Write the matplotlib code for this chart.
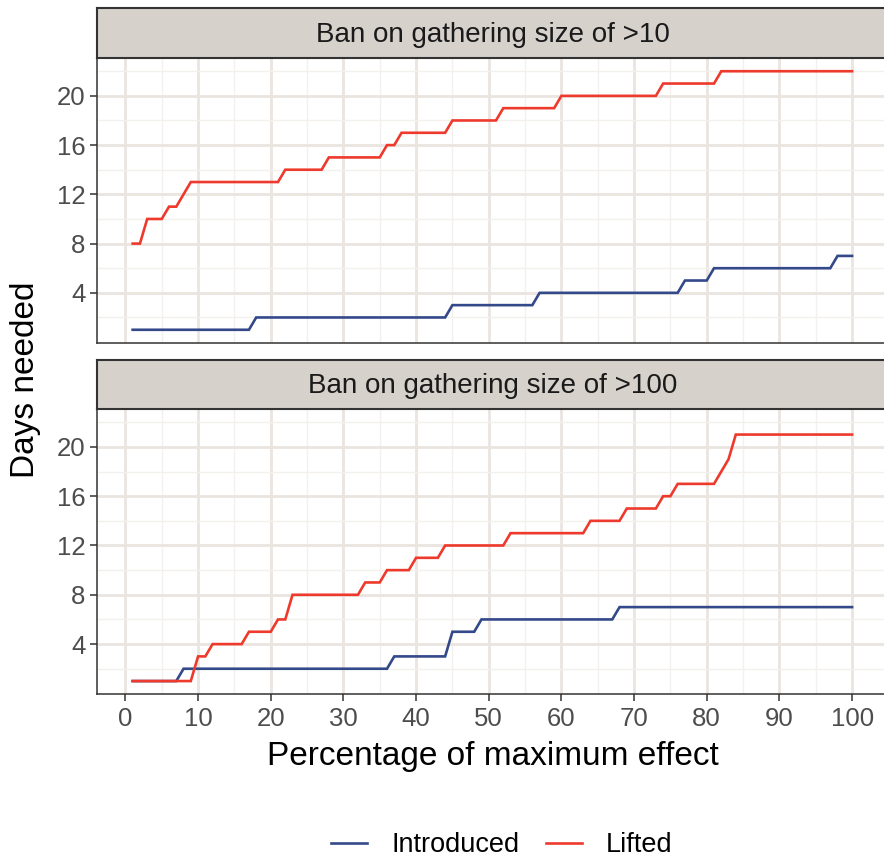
import matplotlib
matplotlib.use("Agg")
import matplotlib.pyplot as plt
from matplotlib.lines import Line2D

plt.rcParams['font.family'] = ['Liberation Sans', 'DejaVu Sans']

# Percentage of maximum effect (x axis)
percent = list(range(1, 101))

# Ban on gathering size of >10
gather10_introduced = [
    1, 1, 1, 1, 1, 1, 1, 1, 1, 1,
    1, 1, 1, 1, 1, 1, 1, 2, 2, 2,
    2, 2, 2, 2, 2, 2, 2, 2, 2, 2,
    2, 2, 2, 2, 2, 2, 2, 2, 2, 2,
    2, 2, 2, 2, 3, 3, 3, 3, 3, 3,
    3, 3, 3, 3, 3, 3, 4, 4, 4, 4,
    4, 4, 4, 4, 4, 4, 4, 4, 4, 4,
    4, 4, 4, 4, 4, 4, 5, 5, 5, 5,
    6, 6, 6, 6, 6, 6, 6, 6, 6, 6,
    6, 6, 6, 6, 6, 6, 6, 7, 7, 7,
]
gather10_lifted = [
    8, 8, 10, 10, 10, 11, 11, 12, 13, 13,
    13, 13, 13, 13, 13, 13, 13, 13, 13, 13,
    13, 14, 14, 14, 14, 14, 14, 15, 15, 15,
    15, 15, 15, 15, 15, 16, 16, 17, 17, 17,
    17, 17, 17, 17, 18, 18, 18, 18, 18, 18,
    18, 19, 19, 19, 19, 19, 19, 19, 19, 20,
    20, 20, 20, 20, 20, 20, 20, 20, 20, 20,
    20, 20, 20, 21, 21, 21, 21, 21, 21, 21,
    21, 22, 22, 22, 22, 22, 22, 22, 22, 22,
    22, 22, 22, 22, 22, 22, 22, 22, 22, 22,
]

# Ban on gathering size of >100
gather100_introduced = [
    1, 1, 1, 1, 1, 1, 1, 2, 2, 2,
    2, 2, 2, 2, 2, 2, 2, 2, 2, 2,
    2, 2, 2, 2, 2, 2, 2, 2, 2, 2,
    2, 2, 2, 2, 2, 2, 3, 3, 3, 3,
    3, 3, 3, 3, 5, 5, 5, 5, 6, 6,
    6, 6, 6, 6, 6, 6, 6, 6, 6, 6,
    6, 6, 6, 6, 6, 6, 6, 7, 7, 7,
    7, 7, 7, 7, 7, 7, 7, 7, 7, 7,
    7, 7, 7, 7, 7, 7, 7, 7, 7, 7,
    7, 7, 7, 7, 7, 7, 7, 7, 7, 7,
]
gather100_lifted = [
    1, 1, 1, 1, 1, 1, 1, 1, 1, 3,
    3, 4, 4, 4, 4, 4, 5, 5, 5, 5,
    6, 6, 8, 8, 8, 8, 8, 8, 8, 8,
    8, 8, 9, 9, 9, 10, 10, 10, 10, 11,
    11, 11, 11, 12, 12, 12, 12, 12, 12, 12,
    12, 12, 13, 13, 13, 13, 13, 13, 13, 13,
    13, 13, 13, 14, 14, 14, 14, 14, 15, 15,
    15, 15, 15, 16, 16, 17, 17, 17, 17, 17,
    17, 18, 19, 21, 21, 21, 21, 21, 21, 21,
    21, 21, 21, 21, 21, 21, 21, 21, 21, 21,
]

panel_titles = ["Ban on gathering size of >10", "Ban on gathering size of >100"]
series_names = ["Introduced", "Lifted"]
x_ticks = [0, 10, 20, 30, 40, 50, 60, 70, 80, 90, 100]
y_ticks = [4, 8, 12, 16, 20]

panels = [
    (gather10_introduced, gather10_lifted),
    (gather100_introduced, gather100_lifted),
]

COL_INTRO = "#33498a"
COL_LIFT = "#ee3a2c"
BORDER = "#333333"
GRID_MAJOR = "#ebe5e0"
GRID_MINOR = "#f3f0ed"
STRIP_FILL = "#d7d1cc"
TICK_TXT = "#4d4d4d"

W, H = 884, 859
fig = plt.figure(figsize=(W / 100, H / 100), dpi=100)
fig.patch.set_facecolor("white")


def px_axes(left, top, right, bottom):
    return fig.add_axes([left / W, 1 - bottom / H, (right - left) / W, (bottom - top) / H])


xmin, xmax = -3.95, 104.95
ymin, ymax = -0.05, 23.05
left_px = 96.7
right_px = left_px + (xmax - xmin) * 7.27

layout = [
    # strip top, strip bottom / panel top, panel bottom
    (8.0, 58.3, 342.7),
    (360.0, 409.3, 694.0),
]

for i, ((intro, lifted), title, (s_top, p_top, p_bot)) in enumerate(zip(panels, panel_titles, layout)):
    ax = px_axes(left_px, p_top, right_px, p_bot)
    ax.set_xlim(xmin, xmax)
    ax.set_ylim(ymin, ymax)
    ax.set_facecolor("white")

    ax.set_xticks(x_ticks)
    ax.set_xticks([v + 5 for v in x_ticks], minor=True)
    ax.set_yticks(y_ticks)
    ax.set_yticks([2, 6, 10, 14, 18, 22], minor=True)
    ax.grid(True, which="major", color=GRID_MAJOR, lw=2.0, zorder=0)
    ax.grid(True, which="minor", color=GRID_MINOR, lw=1.0, zorder=0)
    ax.set_axisbelow(True)

    ax.plot(percent, intro, color=COL_INTRO, lw=1.9, solid_joinstyle="miter", zorder=3)
    ax.plot(percent, lifted, color=COL_LIFT, lw=1.9, solid_joinstyle="miter", zorder=3)

    for sp in ax.spines.values():
        sp.set_color(BORDER)
        sp.set_linewidth(1.1)

    ax.tick_params(axis="both", which="minor", length=0)
    ax.tick_params(axis="y", which="major", length=5, width=1.1, color=BORDER,
                   labelsize=18.5, labelcolor=TICK_TXT, pad=3)
    if i == 0:
        ax.tick_params(axis="x", which="major", length=0, labelbottom=False)
    else:
        ax.tick_params(axis="x", which="major", length=5, width=1.1, color=BORDER,
                       labelsize=18.5, labelcolor=TICK_TXT, pad=4)

    # facet strip
    sax = px_axes(left_px, s_top, right_px, p_top)
    sax.set_facecolor(STRIP_FILL)
    sax.set_xticks([])
    sax.set_yticks([])
    for sp in sax.spines.values():
        sp.set_color(BORDER)
        sp.set_linewidth(1.5)
    sax.text(0.5, 0.47, title, transform=sax.transAxes, ha="center", va="center",
             fontsize=20, color="#1a1a1a")

fig.text(26 / W, 1 - 380 / H, "Days needed", rotation=90, ha="center", va="center",
         fontsize=24, color="black")
fig.text(493 / W, 1 - 757 / H, "Percentage of maximum effect", ha="center", va="center",
         fontsize=24, color="black")

handles = [Line2D([], [], color=COL_INTRO, lw=1.9), Line2D([], [], color=COL_LIFT, lw=1.9)]
fig.legend(handles, series_names, loc="center", bbox_to_anchor=(502 / W, 1 - 845 / H),
           ncol=2, frameon=False, fontsize=19.5, handlelength=1.33, handletextpad=0.9,
           columnspacing=0.96)

fig.savefig("out.png", dpi=100)
